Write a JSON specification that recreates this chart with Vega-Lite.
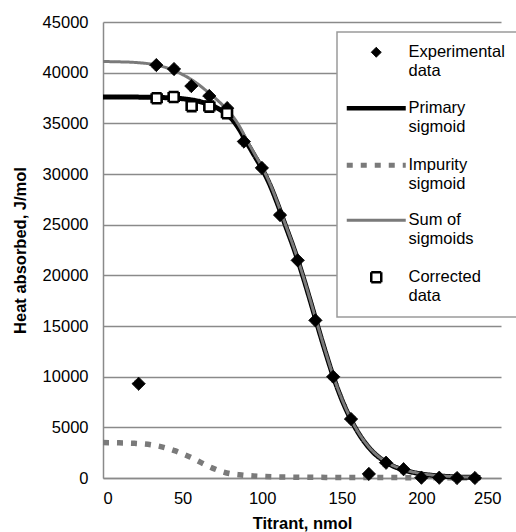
{
  "$schema": "https://vega.github.io/schema/vega-lite/v6.json",
  "width": 398,
  "height": 456,
  "autosize": {"type": "none"},
  "padding": {"left": 103, "top": 22, "right": 15, "bottom": 54},
  "background": "white",
  "config": {
    "font": "Liberation Sans",
    "view": {"stroke": null},
    "axis": {"labelFont": "Liberation Sans", "titleFont": "Liberation Sans", "labelColor": "black", "titleColor": "black", "labelFontSize": 16.5, "titleFontSize": 16.5, "titleFontWeight": "bold", "domainColor": "#8a8a8a", "domainWidth": 1.5, "ticks": false},
    "legend": {
      "orient": "none", "legendX": 234, "legendY": 10, "padding": 12,
      "strokeColor": "#9a9a9a", "fillColor": "white",
      "labelFont": "Liberation Sans", "labelFontSize": 16.5, "labelColor": "black",
      "labelLimit": 200, "symbolOffset": 19, "labelOffset": 24, "rowPadding": 19, "symbolSize": 100
    }
  },
  "data": {"values": [
    {"series": "Experimental data", "titrant": 22.4, "heat": 9300},
    {"series": "Experimental data", "titrant": 33.5, "heat": 40750},
    {"series": "Experimental data", "titrant": 44.6, "heat": 40360},
    {"series": "Experimental data", "titrant": 55.5, "heat": 38680},
    {"series": "Experimental data", "titrant": 66.8, "heat": 37700},
    {"series": "Experimental data", "titrant": 78.0, "heat": 36500},
    {"series": "Experimental data", "titrant": 88.5, "heat": 33200},
    {"series": "Experimental data", "titrant": 99.8, "heat": 30600},
    {"series": "Experimental data", "titrant": 111.2, "heat": 25950},
    {"series": "Experimental data", "titrant": 122.3, "heat": 21480},
    {"series": "Experimental data", "titrant": 133.4, "heat": 15560},
    {"series": "Experimental data", "titrant": 144.6, "heat": 9990},
    {"series": "Experimental data", "titrant": 155.8, "heat": 5820},
    {"series": "Experimental data", "titrant": 167.0, "heat": 400},
    {"series": "Experimental data", "titrant": 177.8, "heat": 1510},
    {"series": "Experimental data", "titrant": 188.8, "heat": 870},
    {"series": "Experimental data", "titrant": 200.0, "heat": 30},
    {"series": "Experimental data", "titrant": 211.2, "heat": 30},
    {"series": "Experimental data", "titrant": 222.4, "heat": 0},
    {"series": "Experimental data", "titrant": 233.6, "heat": 0},
    {"series": "Corrected data", "titrant": 33.7, "heat": 37480},
    {"series": "Corrected data", "titrant": 44.4, "heat": 37600},
    {"series": "Corrected data", "titrant": 55.7, "heat": 36700},
    {"series": "Corrected data", "titrant": 66.8, "heat": 36650},
    {"series": "Corrected data", "titrant": 77.9, "heat": 35990},
    {"series": "Primary sigmoid", "titrant": 0, "heat": 37600},
    {"series": "Primary sigmoid", "titrant": 10, "heat": 37600},
    {"series": "Primary sigmoid", "titrant": 20, "heat": 37590},
    {"series": "Primary sigmoid", "titrant": 30, "heat": 37570},
    {"series": "Primary sigmoid", "titrant": 40, "heat": 37530},
    {"series": "Primary sigmoid", "titrant": 45, "heat": 37490},
    {"series": "Primary sigmoid", "titrant": 50, "heat": 37430},
    {"series": "Primary sigmoid", "titrant": 55, "heat": 37320},
    {"series": "Primary sigmoid", "titrant": 60, "heat": 37180},
    {"series": "Primary sigmoid", "titrant": 65, "heat": 36950},
    {"series": "Primary sigmoid", "titrant": 70, "heat": 36650},
    {"series": "Primary sigmoid", "titrant": 75, "heat": 36200},
    {"series": "Primary sigmoid", "titrant": 80, "heat": 35580},
    {"series": "Primary sigmoid", "titrant": 85, "heat": 34570},
    {"series": "Primary sigmoid", "titrant": 90, "heat": 33200},
    {"series": "Primary sigmoid", "titrant": 95, "heat": 31850},
    {"series": "Primary sigmoid", "titrant": 100, "heat": 30500},
    {"series": "Primary sigmoid", "titrant": 105, "heat": 28880},
    {"series": "Primary sigmoid", "titrant": 110, "heat": 26900},
    {"series": "Primary sigmoid", "titrant": 115, "heat": 24750},
    {"series": "Primary sigmoid", "titrant": 120, "heat": 22600},
    {"series": "Primary sigmoid", "titrant": 125, "heat": 20200},
    {"series": "Primary sigmoid", "titrant": 130, "heat": 17600},
    {"series": "Primary sigmoid", "titrant": 135, "heat": 14900},
    {"series": "Primary sigmoid", "titrant": 140, "heat": 12300},
    {"series": "Primary sigmoid", "titrant": 145, "heat": 9850},
    {"series": "Primary sigmoid", "titrant": 150, "heat": 7750},
    {"series": "Primary sigmoid", "titrant": 155, "heat": 6000},
    {"series": "Primary sigmoid", "titrant": 160, "heat": 4550},
    {"series": "Primary sigmoid", "titrant": 165, "heat": 3400},
    {"series": "Primary sigmoid", "titrant": 170, "heat": 2500},
    {"series": "Primary sigmoid", "titrant": 175, "heat": 1850},
    {"series": "Primary sigmoid", "titrant": 180, "heat": 1350},
    {"series": "Primary sigmoid", "titrant": 190, "heat": 750},
    {"series": "Primary sigmoid", "titrant": 200, "heat": 400},
    {"series": "Primary sigmoid", "titrant": 210, "heat": 220},
    {"series": "Primary sigmoid", "titrant": 220, "heat": 120},
    {"series": "Primary sigmoid", "titrant": 237, "heat": 50},
    {"series": "Impurity sigmoid", "titrant": 0, "heat": 3500},
    {"series": "Impurity sigmoid", "titrant": 10, "heat": 3470},
    {"series": "Impurity sigmoid", "titrant": 20, "heat": 3420},
    {"series": "Impurity sigmoid", "titrant": 30, "heat": 3280},
    {"series": "Impurity sigmoid", "titrant": 40, "heat": 2950},
    {"series": "Impurity sigmoid", "titrant": 45, "heat": 2700},
    {"series": "Impurity sigmoid", "titrant": 50, "heat": 2380},
    {"series": "Impurity sigmoid", "titrant": 55, "heat": 2050},
    {"series": "Impurity sigmoid", "titrant": 60, "heat": 1650},
    {"series": "Impurity sigmoid", "titrant": 65, "heat": 1250},
    {"series": "Impurity sigmoid", "titrant": 70, "heat": 900},
    {"series": "Impurity sigmoid", "titrant": 75, "heat": 620},
    {"series": "Impurity sigmoid", "titrant": 80, "heat": 420},
    {"series": "Impurity sigmoid", "titrant": 85, "heat": 330},
    {"series": "Impurity sigmoid", "titrant": 90, "heat": 250},
    {"series": "Impurity sigmoid", "titrant": 100, "heat": 150},
    {"series": "Impurity sigmoid", "titrant": 110, "heat": 100},
    {"series": "Impurity sigmoid", "titrant": 120, "heat": 80},
    {"series": "Impurity sigmoid", "titrant": 140, "heat": 60},
    {"series": "Impurity sigmoid", "titrant": 160, "heat": 50},
    {"series": "Impurity sigmoid", "titrant": 180, "heat": 40},
    {"series": "Impurity sigmoid", "titrant": 200, "heat": 30},
    {"series": "Impurity sigmoid", "titrant": 237, "heat": 20},
    {"series": "Sum of sigmoids", "titrant": 0, "heat": 41100},
    {"series": "Sum of sigmoids", "titrant": 10, "heat": 41070},
    {"series": "Sum of sigmoids", "titrant": 20, "heat": 41010},
    {"series": "Sum of sigmoids", "titrant": 30, "heat": 40850},
    {"series": "Sum of sigmoids", "titrant": 40, "heat": 40480},
    {"series": "Sum of sigmoids", "titrant": 45, "heat": 40190},
    {"series": "Sum of sigmoids", "titrant": 50, "heat": 39810},
    {"series": "Sum of sigmoids", "titrant": 55, "heat": 39370},
    {"series": "Sum of sigmoids", "titrant": 60, "heat": 38830},
    {"series": "Sum of sigmoids", "titrant": 65, "heat": 38200},
    {"series": "Sum of sigmoids", "titrant": 70, "heat": 37550},
    {"series": "Sum of sigmoids", "titrant": 75, "heat": 36820},
    {"series": "Sum of sigmoids", "titrant": 80, "heat": 36000},
    {"series": "Sum of sigmoids", "titrant": 85, "heat": 34900},
    {"series": "Sum of sigmoids", "titrant": 90, "heat": 33450},
    {"series": "Sum of sigmoids", "titrant": 95, "heat": 32040},
    {"series": "Sum of sigmoids", "titrant": 100, "heat": 30650},
    {"series": "Sum of sigmoids", "titrant": 105, "heat": 29000},
    {"series": "Sum of sigmoids", "titrant": 110, "heat": 27000},
    {"series": "Sum of sigmoids", "titrant": 115, "heat": 24840},
    {"series": "Sum of sigmoids", "titrant": 120, "heat": 22680},
    {"series": "Sum of sigmoids", "titrant": 125, "heat": 20275},
    {"series": "Sum of sigmoids", "titrant": 130, "heat": 17670},
    {"series": "Sum of sigmoids", "titrant": 135, "heat": 14965},
    {"series": "Sum of sigmoids", "titrant": 140, "heat": 12360},
    {"series": "Sum of sigmoids", "titrant": 145, "heat": 9907},
    {"series": "Sum of sigmoids", "titrant": 150, "heat": 7805},
    {"series": "Sum of sigmoids", "titrant": 155, "heat": 6052},
    {"series": "Sum of sigmoids", "titrant": 160, "heat": 4600},
    {"series": "Sum of sigmoids", "titrant": 165, "heat": 3448},
    {"series": "Sum of sigmoids", "titrant": 170, "heat": 2545},
    {"series": "Sum of sigmoids", "titrant": 175, "heat": 1892},
    {"series": "Sum of sigmoids", "titrant": 180, "heat": 1390},
    {"series": "Sum of sigmoids", "titrant": 190, "heat": 785},
    {"series": "Sum of sigmoids", "titrant": 200, "heat": 430},
    {"series": "Sum of sigmoids", "titrant": 210, "heat": 247},
    {"series": "Sum of sigmoids", "titrant": 220, "heat": 145},
    {"series": "Sum of sigmoids", "titrant": 237, "heat": 70}
  ]},
  "encoding": {
    "x": {"field": "titrant", "type": "quantitative", "title": "Titrant, nmol",
      "scale": {"domain": [0, 250], "nice": false, "zero": false},
      "axis": {"values": [0, 50, 100, 150, 200, 250], "grid": false, "labelPadding": 12, "titlePadding": 9}},
    "y": {"field": "heat", "type": "quantitative", "title": "Heat absorbed, J/mol",
      "scale": {"domain": [0, 45000], "nice": false},
      "axis": {"values": [0, 5000, 10000, 15000, 20000, 25000, 30000, 35000, 40000, 45000], "format": "d", "grid": true, "gridColor": "#8a8a8a", "gridWidth": 1.4, "labelPadding": 15, "titlePadding": 14}},
    "stroke": {
      "field": "series", "type": "nominal", "title": null,
      "scale": {"domain": ["Experimental data", "Primary sigmoid", "Impurity sigmoid", "Sum of sigmoids", "Corrected data"], "range": ["black", "black", "#7a7a7a", "#7a7a7a", "black"]},
      "legend": {
        "labelExpr": "datum.label == 'Sum of sigmoids' ? ['Sum of', 'sigmoids'] : split(datum.label, ' ')",
        "labelBaseline": "top",
        "encode": {
          "labels": {"update": {"dy": {"value": -8}, "lineHeight": {"value": 19}}},
          "symbols": {"update": {"strokeWidth": {"signal": "datum.value == 'Primary sigmoid' ? 4.5 : datum.value == 'Impurity sigmoid' ? 5 : datum.value == 'Experimental data' ? 1 : datum.value == 'Sum of sigmoids' ? 3 : 2.5"}}},
          "legend": {"update": {"strokeWidth": {"value": 1.5}}}
        }
      }
    },
    "strokeDash": {
      "field": "series", "type": "nominal", "title": null,
      "scale": {"domain": ["Experimental data", "Primary sigmoid", "Impurity sigmoid", "Sum of sigmoids", "Corrected data"], "range": [[1, 0], [1, 0], [6, 8], [1, 0], [1, 0]]},
      "legend": {
        "labelExpr": "datum.label == 'Sum of sigmoids' ? ['Sum of', 'sigmoids'] : split(datum.label, ' ')",
        "labelBaseline": "top",
        "encode": {
          "labels": {"update": {"dy": {"value": -8}, "lineHeight": {"value": 19}}},
          "symbols": {"update": {"strokeWidth": {"signal": "datum.value == 'Primary sigmoid' ? 4.5 : datum.value == 'Impurity sigmoid' ? 5 : datum.value == 'Experimental data' ? 1 : datum.value == 'Sum of sigmoids' ? 3 : 2.5"}}},
          "legend": {"update": {"strokeWidth": {"value": 1.5}}}
        }
      }
    }
  },
  "layer": [
    {
      "transform": [{"filter": "datum.series == 'Impurity sigmoid'"}],
      "mark": {"type": "line", "interpolate": "monotone", "strokeCap": "butt", "strokeWidth": 5.5}
    },
    {
      "transform": [{"filter": "datum.series == 'Primary sigmoid'"}],
      "mark": {"type": "line", "interpolate": "monotone", "strokeWidth": 5}
    },
    {
      "transform": [{"filter": "datum.series == 'Sum of sigmoids'"}],
      "mark": {"type": "line", "interpolate": "monotone", "strokeWidth": 3}
    },
    {
      "transform": [{"filter": "datum.series == 'Experimental data'"}],
      "mark": {"type": "point", "size": 175, "opacity": 1, "strokeWidth": 1},
      "encoding": {
        "shape": {
          "field": "series", "type": "nominal", "title": null,
          "scale": {"domain": ["Experimental data", "Primary sigmoid", "Impurity sigmoid", "Sum of sigmoids", "Corrected data"], "range": ["diamond", "M-5.9,0H5.9", "M-5.9,0H5.9", "M-5.9,0H5.9", "square"]},
          "legend": {
            "labelExpr": "datum.label == 'Sum of sigmoids' ? ['Sum of', 'sigmoids'] : split(datum.label, ' ')",
            "labelBaseline": "top",
            "encode": {
              "labels": {"update": {"dy": {"value": -8}, "lineHeight": {"value": 19}}},
              "symbols": {"update": {"strokeWidth": {"signal": "datum.value == 'Primary sigmoid' ? 4.5 : datum.value == 'Impurity sigmoid' ? 5 : datum.value == 'Experimental data' ? 1 : datum.value == 'Sum of sigmoids' ? 3 : 2.5"}}},
              "legend": {"update": {"strokeWidth": {"value": 1.5}}}
            }
          }
        },
        "fill": {
          "field": "series", "type": "nominal", "title": null,
          "scale": {"domain": ["Experimental data", "Primary sigmoid", "Impurity sigmoid", "Sum of sigmoids", "Corrected data"], "range": ["black", "transparent", "transparent", "transparent", "white"]},
          "legend": {
            "labelExpr": "datum.label == 'Sum of sigmoids' ? ['Sum of', 'sigmoids'] : split(datum.label, ' ')",
            "labelBaseline": "top",
            "encode": {
              "labels": {"update": {"dy": {"value": -8}, "lineHeight": {"value": 19}}},
              "symbols": {"update": {"strokeWidth": {"signal": "datum.value == 'Primary sigmoid' ? 4.5 : datum.value == 'Impurity sigmoid' ? 5 : datum.value == 'Experimental data' ? 1 : datum.value == 'Sum of sigmoids' ? 3 : 2.5"}}},
              "legend": {"update": {"strokeWidth": {"value": 1.5}}}
            }
          }
        }
      }
    },
    {
      "transform": [{"filter": "datum.series == 'Corrected data'"}],
      "mark": {"type": "point", "size": 100, "opacity": 1, "strokeWidth": 2.6},
      "encoding": {
        "shape": {
          "field": "series", "type": "nominal", "title": null,
          "scale": {"domain": ["Experimental data", "Primary sigmoid", "Impurity sigmoid", "Sum of sigmoids", "Corrected data"], "range": ["diamond", "M-5.9,0H5.9", "M-5.9,0H5.9", "M-5.9,0H5.9", "square"]},
          "legend": {
            "labelExpr": "datum.label == 'Sum of sigmoids' ? ['Sum of', 'sigmoids'] : split(datum.label, ' ')",
            "labelBaseline": "top",
            "encode": {
              "labels": {"update": {"dy": {"value": -8}, "lineHeight": {"value": 19}}},
              "symbols": {"update": {"strokeWidth": {"signal": "datum.value == 'Primary sigmoid' ? 4.5 : datum.value == 'Impurity sigmoid' ? 5 : datum.value == 'Experimental data' ? 1 : datum.value == 'Sum of sigmoids' ? 3 : 2.5"}}},
              "legend": {"update": {"strokeWidth": {"value": 1.5}}}
            }
          }
        },
        "fill": {
          "field": "series", "type": "nominal", "title": null,
          "scale": {"domain": ["Experimental data", "Primary sigmoid", "Impurity sigmoid", "Sum of sigmoids", "Corrected data"], "range": ["black", "transparent", "transparent", "transparent", "white"]},
          "legend": {
            "labelExpr": "datum.label == 'Sum of sigmoids' ? ['Sum of', 'sigmoids'] : split(datum.label, ' ')",
            "labelBaseline": "top",
            "encode": {
              "labels": {"update": {"dy": {"value": -8}, "lineHeight": {"value": 19}}},
              "symbols": {"update": {"strokeWidth": {"signal": "datum.value == 'Primary sigmoid' ? 4.5 : datum.value == 'Impurity sigmoid' ? 5 : datum.value == 'Experimental data' ? 1 : datum.value == 'Sum of sigmoids' ? 3 : 2.5"}}},
              "legend": {"update": {"strokeWidth": {"value": 1.5}}}
            }
          }
        }
      }
    }
  ]
}
